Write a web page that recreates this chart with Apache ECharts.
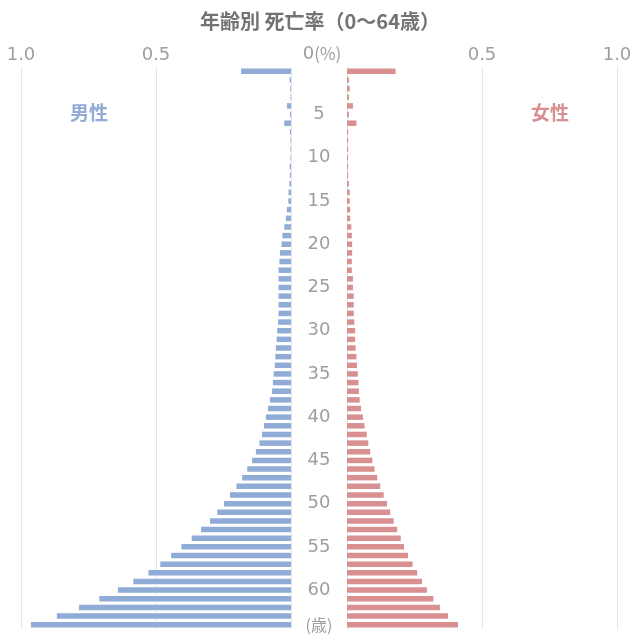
<!DOCTYPE html>
<html><head><meta charset="utf-8">
<script src="https://cdn.jsdelivr.net/npm/echarts@6/dist/echarts.min.js"></script>
<style>html,body{margin:0;padding:0;background:#fff}#c{width:640px;height:640px}</style>
</head><body><div id="c"></div>
<script>
const titleText = '年齢別 死亡率（0～64歳）';
const ages = Array.from({length: 65}, (_, i) => String(i));
const male = [
  0.185, 0.005, 0.003, 0.002, 0.015, 0.004, 0.025, 0.004, 0.002, 0.002,
  0.002, 0.005, 0.004, 0.006, 0.009, 0.010, 0.015, 0.019, 0.025, 0.032,
  0.035, 0.041, 0.043, 0.046, 0.046, 0.046, 0.046, 0.046, 0.046, 0.048,
  0.051, 0.053, 0.056, 0.058, 0.060, 0.064, 0.067, 0.070, 0.078, 0.085,
  0.093, 0.100, 0.107, 0.117, 0.130, 0.144, 0.162, 0.181, 0.202, 0.226,
  0.248, 0.273, 0.300, 0.333, 0.368, 0.406, 0.444, 0.484, 0.528, 0.584,
  0.641, 0.710, 0.785, 0.867, 0.963
];
const female = [
  0.180, 0.007, 0.010, 0.007, 0.022, 0.007, 0.035, 0.004, 0.004, 0.004,
  0.004, 0.004, 0.004, 0.007, 0.010, 0.010, 0.012, 0.012, 0.016, 0.018,
  0.019, 0.019, 0.018, 0.018, 0.022, 0.022, 0.025, 0.025, 0.025, 0.027,
  0.030, 0.030, 0.032, 0.035, 0.037, 0.040, 0.042, 0.044, 0.047, 0.052,
  0.059, 0.065, 0.073, 0.079, 0.086, 0.094, 0.102, 0.112, 0.123, 0.136,
  0.148, 0.160, 0.173, 0.186, 0.199, 0.211, 0.226, 0.243, 0.260, 0.278,
  0.296, 0.320, 0.344, 0.374, 0.411
];
const xTicks = [0, 0.5, 1.0];
const maleName = '男性', femaleName = '女性';
const ageUnit = '(歳)';
const pctZero = '0', pctUnit = '(%)';

const FONT = '"Noto Sans CJK JP", "Noto Sans", sans-serif';
const NUMFONT = '"DejaVu Sans", "Noto Sans CJK JP", sans-serif';
const BLUE = '#8fabd6', RED = '#d99090', GRID = '#e6e6e6', LBL = '#9e9e9e';

const chart = echarts.init(document.getElementById('c'), null, {renderer: 'canvas'});
const xAxisBase = {
  type: 'value', min: xTicks[0], max: xTicks[2], interval: xTicks[1],
  position: 'top',
  axisLine: {show: false}, axisTick: {show: false},
  splitLine: {show: true, lineStyle: {color: GRID, width: 1}},
  axisLabel: {
    margin: 3, color: LBL, fontSize: 18, fontFamily: NUMFONT,
    formatter: v => v === 0 ? '' : v.toFixed(1)
  }
};
chart.setOption({
  animation: false,
  textStyle: {fontFamily: FONT},
  title: [
    {text: titleText, left: 'center', top: 6,
     textStyle: {fontSize: 20, fontWeight: 'bold', color: '#737373', fontFamily: FONT}}
  ],
  graphic: [
    {type: 'text', x: 89, y: 113,
     style: {text: maleName, fontSize: 19, fontWeight: 'bold', fill: BLUE, fontFamily: FONT,
             align: 'center', verticalAlign: 'middle'}},
    {type: 'text', x: 550, y: 113,
     style: {text: femaleName, fontSize: 19, fontWeight: 'bold', fill: RED, fontFamily: FONT,
             align: 'center', verticalAlign: 'middle'}},
    {type: 'text', x: 322, y: 54,
     style: {
       text: '{a|' + pctZero + '}{b|' + pctUnit + '}',
       align: 'center', verticalAlign: 'middle',
       rich: {
         a: {fontSize: 18, fill: LBL, fontFamily: NUMFONT},
         b: {fontSize: 17, fill: LBL, fontFamily: FONT}
       }
     }}
  ],
  grid: [
    {left: 21, width: 270, top: 67, height: 562},
    {left: 347, width: 270, top: 67, height: 562}
  ],
  xAxis: [
    Object.assign({}, xAxisBase, {gridIndex: 0, inverse: true}),
    Object.assign({}, xAxisBase, {gridIndex: 1})
  ],
  yAxis: [
    {type: 'category', gridIndex: 0, data: ages, inverse: true, position: 'right',
     axisLine: {show: false}, axisTick: {show: false}, axisLabel: {show: false}},
    {type: 'category', gridIndex: 1, data: ages, inverse: true, position: 'left',
     axisLine: {show: false}, axisTick: {show: false},
     axisLabel: {
       show: true, margin: 28, align: 'center', color: LBL, fontSize: 18, fontFamily: NUMFONT,
       interval: (i) => (i > 0 && i % 5 === 0) || i === 64,
       formatter: (v) => v === '64' ? '{u|' + ageUnit + '}' : v,
       rich: {u: {fontSize: 16, color: LBL, fontFamily: FONT}}
     }}
  ],
  series: [
    {type: 'bar', name: maleName, xAxisIndex: 0, yAxisIndex: 0, data: male,
     barWidth: 5.5, itemStyle: {color: BLUE}},
    {type: 'bar', name: femaleName, xAxisIndex: 1, yAxisIndex: 1, data: female,
     barWidth: 5.5, itemStyle: {color: RED}}
  ]
});
</script></body></html>
